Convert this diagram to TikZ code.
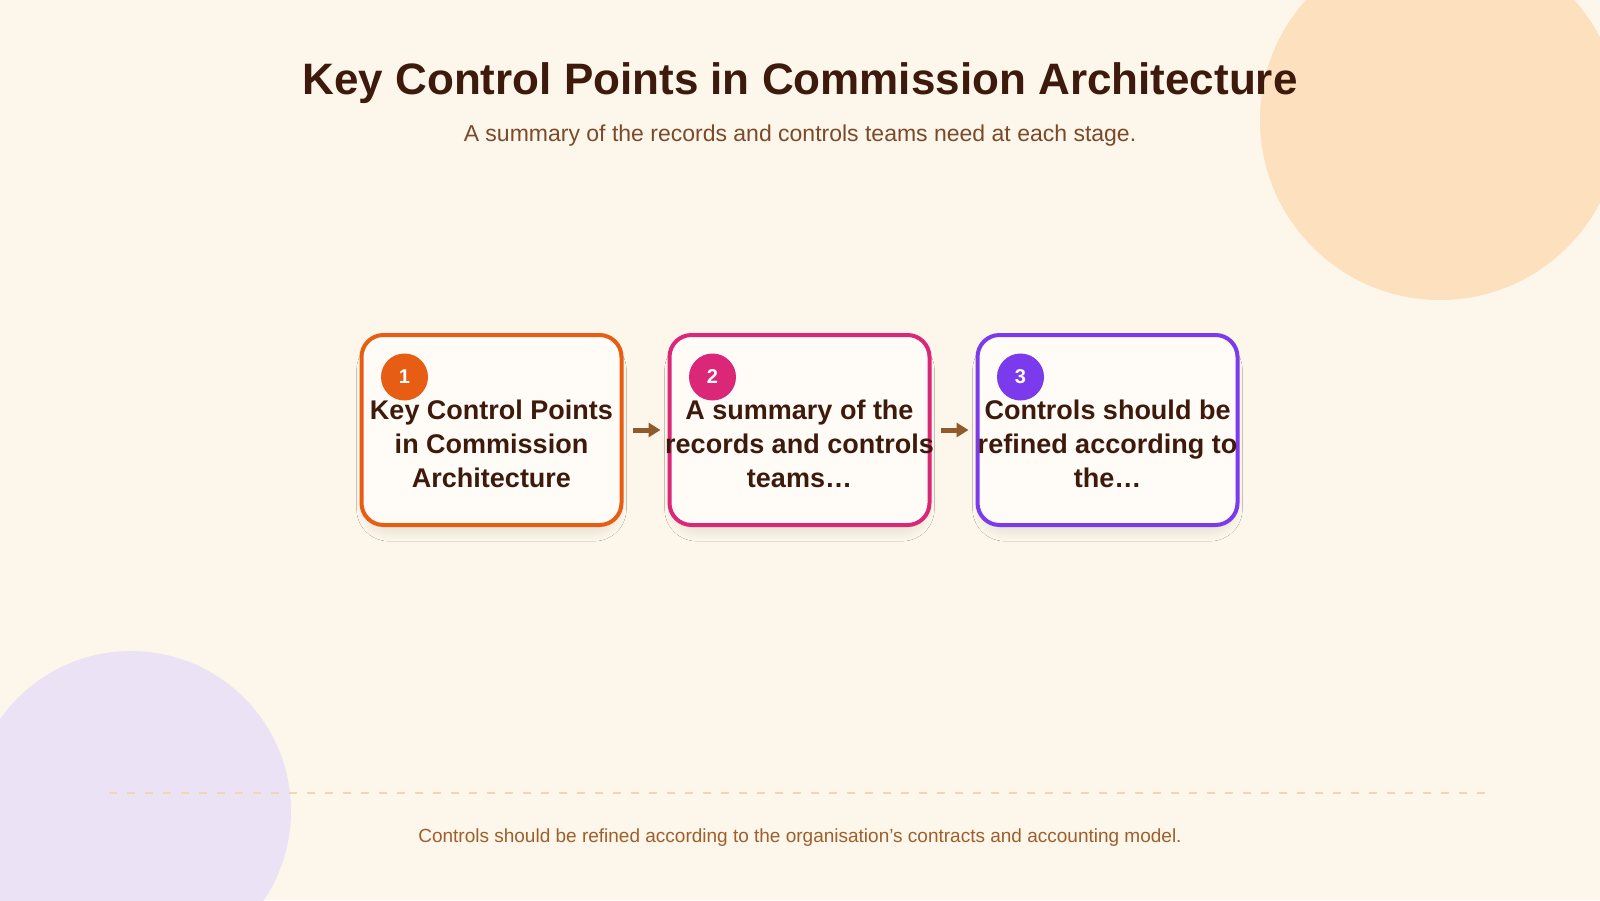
\documentclass[tikz,border=0pt]{standalone}
\usepackage{fontspec}
\setmainfont{Liberation Sans}
\usetikzlibrary{arrows.meta}
\usetikzlibrary{positioning}
\usetikzlibrary{shadows.blur}

\definecolor{bgcream}{HTML}{FDF6EA}
\definecolor{peach}{HTML}{FDE0BD}
\definecolor{lilac}{HTML}{EBE3F5}
\definecolor{inkbrown}{HTML}{3D1A0C}
\definecolor{subbrown}{HTML}{7A4A2A}
\definecolor{footbrown}{HTML}{9E5F2C}
\definecolor{arrowbrown}{HTML}{8F5A2C}
\definecolor{rulecol}{HTML}{F0D7B2}
\definecolor{boxfill}{HTML}{FFFCF8}
\definecolor{stageorange}{HTML}{E85D14}
\definecolor{stagepink}{HTML}{DB2777}
\definecolor{stagepurple}{HTML}{7C3AED}

\tikzset{
    stage/.style={draw=#1, line width=4pt, fill=boxfill, rounded corners=22pt,
        minimum width=260pt, minimum height=190pt,
        blur shadow={shadow xshift=0pt, shadow yshift=-10pt, shadow scale=0.95,
            shadow blur radius=12pt, shadow blur steps=24, shadow opacity=12}},
    badge/.style={circle, fill=#1, text=white, inner sep=0pt, minimum size=47pt,
        font=\bfseries\fontsize{20}{24}\selectfont},
    stagetext/.style={text=inkbrown, align=center, font=\bfseries\fontsize{27}{34}\selectfont},
    flow/.style={-{Triangle[length=12pt,width=14pt]}, line width=5pt, draw=arrowbrown},
}

\begin{document}
\begin{tikzpicture}[x=1pt, y=-1pt]
    \useasboundingbox (0,0) rectangle (1600,900);
    \fill[bgcream] (0,0) rectangle (1600,900);

    % corner decorations
    \begin{scope}
        \clip (0,0) rectangle (1600,900);
        \fill[peach] (1440,120) circle (180);
        \fill[lilac] (131,811) circle (160);
    \end{scope}

    \node (title) at (800,83) [text=inkbrown, font=\bfseries\fontsize{44}{52}\selectfont]
        {Key Control Points in Commission Architecture};
    \node (subtitle) at (800,136) [text=subbrown, font=\fontsize{23}{27}\selectfont]
        {A summary of the records and controls teams need at each stage.};

    % stages
    \node (box1) at (491.5,430) [stage=stageorange] {};
    \node (box2) [right=44pt of box1, stage=stagepink] {};
    \node (box3) [right=44pt of box2, stage=stagepurple] {};

    \node (n1) at ([shift={(45pt,-44pt)}]box1.north west) [badge=stageorange] {1};
    \node (n2) at ([shift={(45pt,-44pt)}]box2.north west) [badge=stagepink] {2};
    \node (n3) at ([shift={(45pt,-44pt)}]box3.north west) [badge=stagepurple] {3};

    \node (t1) at ([yshift=-14pt]box1.center) [stagetext] {Key Control Points\\in Commission\\Architecture};
    \node (t2) at ([yshift=-14pt]box2.center) [stagetext] {A summary of the\\records and controls\\teams\ldots};
    \node (t3) at ([yshift=-14pt]box3.center) [stagetext] {Controls should be\\refined according to\\the\ldots};

    \draw[flow, shorten <=9pt, shorten >=7pt] (box1) -- (box2);
    \draw[flow, shorten <=9pt, shorten >=7pt] (box2) -- (box3);

    % footer
    \coordinate (ruleL) at (109,793);
    \coordinate (ruleR) at (1487,793);
    \draw[rulecol, line width=2pt, dash pattern=on 8pt off 10pt] (ruleL) -- (ruleR);

    \node (footer) at (800,838) [text=footbrown, font=\fontsize{19}{23}\selectfont]
        {Controls should be refined according to the organisation’s contracts and accounting model.};
\end{tikzpicture}
\end{document}
